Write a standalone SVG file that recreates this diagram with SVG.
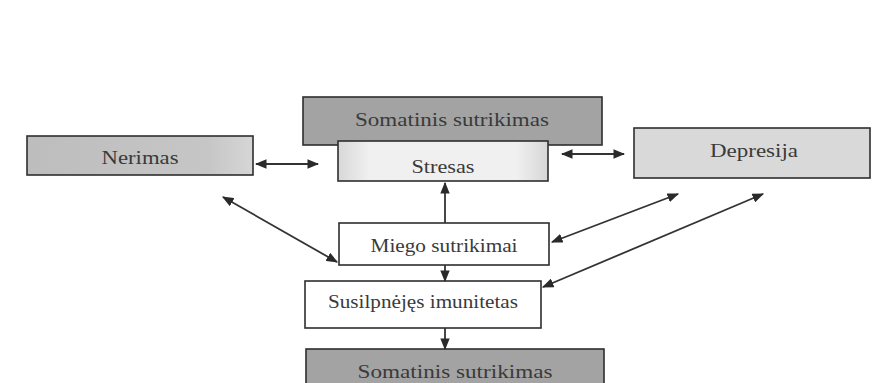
<svg xmlns="http://www.w3.org/2000/svg" width="873" height="383" viewBox="0 0 873 383">
<style>
.box{stroke:#2e2e2e;stroke-width:1.6}
.lbl{font-family:"Liberation Serif","Times New Roman",serif;font-size:19px;fill:#3a3a3a;text-anchor:middle}
.con{stroke:#333;stroke-width:1.8;fill:none;marker-end:url(#ah);marker-start:url(#ah)}
.one{stroke:#333;stroke-width:1.8;fill:none;marker-end:url(#ah)}
</style>
<defs>
<marker id="ah" viewBox="0 0 10 8" refX="9" refY="4" markerWidth="6.5" markerHeight="5.2" orient="auto-start-reverse" markerUnits="strokeWidth">
<path d="M0,0 L10,4 L0,8 Z" fill="#2a2a2a"/>
</marker>
<linearGradient id="gStres" x1="0" y1="0" x2="1" y2="0">
<stop offset="0" stop-color="#d8d8d8"/>
<stop offset="0.15" stop-color="#f0f0f0"/>
<stop offset="0.85" stop-color="#f0f0f0"/>
<stop offset="1" stop-color="#d6d6d6"/>
</linearGradient>
<linearGradient id="gNer" x1="0" y1="0" x2="1" y2="0">
<stop offset="0" stop-color="#bdbdbd"/>
<stop offset="0.8" stop-color="#c6c6c6"/>
<stop offset="1" stop-color="#d6d6d6"/>
</linearGradient>
</defs>
<rect width="873" height="383" fill="#ffffff"/>

<g id="somatinis-top">
<rect class="box" x="303" y="97" width="299" height="48" fill="#a3a3a3"/>
<text class="lbl" x="452" y="126" textLength="194" lengthAdjust="spacingAndGlyphs">Somatinis sutrikimas</text>
</g>
<g id="stresas">
<rect class="box" x="338" y="141" width="210" height="40" fill="url(#gStres)"/>
<text class="lbl" x="443" y="173" textLength="63" lengthAdjust="spacingAndGlyphs">Stresas</text>
</g>
<g id="nerimas">
<rect class="box" x="27" y="136" width="226" height="39" fill="url(#gNer)"/>
<text class="lbl" x="140" y="164" textLength="77" lengthAdjust="spacingAndGlyphs">Nerimas</text>
</g>
<g id="depresija">
<rect class="box" x="634" y="128" width="236" height="50" fill="#d9d9d9"/>
<text class="lbl" x="754" y="157" textLength="88" lengthAdjust="spacingAndGlyphs">Depresija</text>
</g>
<g id="miego">
<rect class="box" x="339" y="223" width="210" height="42" fill="#ffffff"/>
<text class="lbl" x="444" y="252" textLength="147" lengthAdjust="spacingAndGlyphs">Miego sutrikimai</text>
</g>
<g id="susilpnejes">
<rect class="box" x="305" y="281" width="236" height="47" fill="#ffffff"/>
<text class="lbl" x="423" y="308" textLength="190" lengthAdjust="spacingAndGlyphs">Susilpnėjęs imunitetas</text>
</g>
<g id="somatinis-bottom">
<rect class="box" x="306" y="349" width="298" height="40" fill="#a3a3a3"/>
<text class="lbl" x="455" y="378" textLength="195" lengthAdjust="spacingAndGlyphs">Somatinis sutrikimas</text>
</g>

<g id="connectors">
<line class="con" x1="256" y1="164" x2="318" y2="164"/>
<line class="con" x1="562" y1="154" x2="624" y2="154"/>
<line class="one" x1="445" y1="223" x2="445" y2="183"/>
<line class="one" x1="445" y1="265" x2="445" y2="281"/>
<line class="one" x1="445" y1="328" x2="445" y2="349"/>
<line class="con" x1="223" y1="197" x2="337" y2="262"/>
<line class="con" x1="552" y1="242" x2="678" y2="194"/>
<line class="con" x1="543" y1="287" x2="763" y2="194"/>
</g>
</svg>
